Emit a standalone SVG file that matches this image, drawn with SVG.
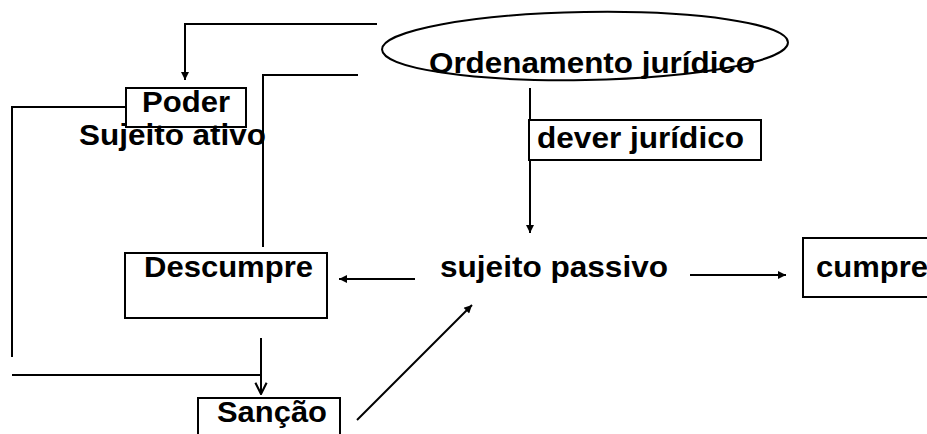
<svg xmlns="http://www.w3.org/2000/svg" width="927" height="434" viewBox="0 0 927 434">
<defs>
<style>
.t{font-family:"Liberation Sans",Arial,sans-serif;font-weight:bold;font-size:29px;fill:#000}
.b{fill:#fff;stroke:#000;stroke-width:2}
.c{fill:none;stroke:#000;stroke-width:2}
</style>
<marker id="a" viewBox="0 0 10 10" refX="10" refY="5" markerWidth="10" markerHeight="8" markerUnits="userSpaceOnUse" orient="auto"><path d="M0,0 L10,5 L0,10 Z" fill="#000"/></marker>
<marker id="v" viewBox="0 0 10 10" refX="9" refY="5" markerWidth="14" markerHeight="14" markerUnits="userSpaceOnUse" orient="auto"><path d="M1,1 L9,5 L1,9" fill="none" stroke="#000" stroke-width="1.5"/></marker>
</defs>
<g id="connectors">
<path class="c" d="M377,24 H185 V80" marker-end="url(#a)"/>
<path class="c" d="M358,75 H263 V247"/>
<path class="c" d="M126,107 H12 V357"/>
<path class="c" d="M12,375 H261"/>
<path class="c" d="M261,338 V394" marker-end="url(#v)"/>
<path class="c" d="M530,88 V233" marker-end="url(#a)"/>
<path class="c" d="M415,279 H339" marker-end="url(#a)"/>
<path class="c" d="M690,275 H786" marker-end="url(#a)"/>
<path class="c" d="M357,420 L472,305" marker-end="url(#a)"/>
</g>
<g id="ordenamento">
<ellipse class="c" cx="585" cy="46" rx="203" ry="34" transform="rotate(-1 585 46)"/>
<text class="t" x="429" y="73" textLength="326" lengthAdjust="spacingAndGlyphs">Ordenamento jurídico</text>
</g>
<g id="poder">
<rect class="b" x="126" y="88" width="120" height="39"/>
<text class="t" x="142" y="112" textLength="88" lengthAdjust="spacingAndGlyphs">Poder</text>
</g>
<g id="sujeito-ativo">
<text class="t" x="79" y="145" textLength="187" lengthAdjust="spacingAndGlyphs">Sujeito ativo</text>
</g>
<g id="dever">
<rect class="b" x="529" y="120" width="232" height="40"/>
<text class="t" x="537" y="148" textLength="207" lengthAdjust="spacingAndGlyphs">dever jurídico</text>
</g>
<g id="sujeito-passivo">
<text class="t" x="440" y="277" textLength="228" lengthAdjust="spacingAndGlyphs">sujeito passivo</text>
</g>
<g id="descumpre">
<rect class="b" x="125" y="253" width="202" height="65"/>
<text class="t" x="144" y="277" textLength="169" lengthAdjust="spacingAndGlyphs">Descumpre</text>
</g>
<g id="cumpre">
<rect class="b" x="803" y="238" width="140" height="59"/>
<text class="t" x="816" y="277" textLength="112" lengthAdjust="spacingAndGlyphs">cumpre</text>
</g>
<g id="sancao">
<rect class="b" x="198" y="398" width="142" height="50"/>
<text class="t" x="217" y="422" textLength="110" lengthAdjust="spacingAndGlyphs">Sanção</text>
</g>
</svg>
